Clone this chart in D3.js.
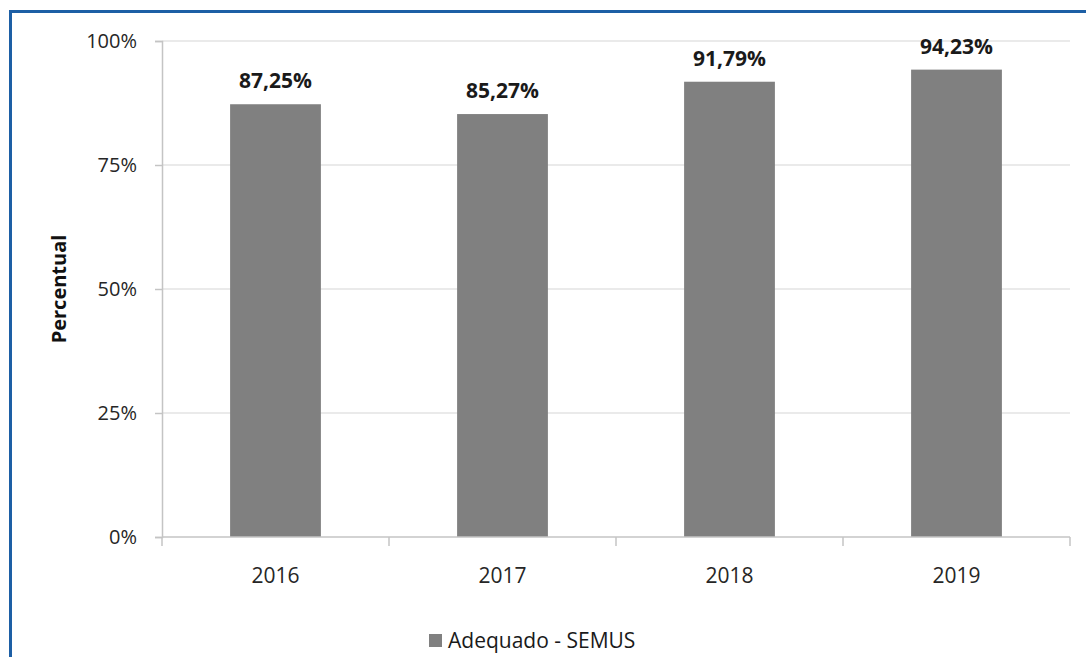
<!DOCTYPE html>
<html lang="pt">
<head>
  <meta charset="UTF-8">
  <title>Percentual Adequado - SEMUS</title>
  <script src="https://d3js.org/d3.v7.min.js"></script>
  <style>
    body {
      margin: 0;
      background: #fff;
      font-family: "Open Sans", "Noto Sans", sans-serif;
    }
    svg { display: block; }
  </style>
</head>
<body>
<div id="chart"></div>
<script>
  // dados
  const anos = ["2016", "2017", "2018", "2019"];
  const valores = [87.25, 85.27, 91.79, 94.23];
  const rotulos = ["87,25%", "85,27%", "91,79%", "94,23%"];
  const yTicks = [0, 25, 50, 75, 100];
  const serie = "Adequado - SEMUS";

  const W = 1086, H = 657;
  const margin = {top: 41, right: 16, bottom: 120, left: 162},
        width = 1070 - margin.left,
        height = 537 - margin.top;

  const root = d3.select("#chart").append("svg")
    .attr("width", W).attr("height", H);

  // moldura azul
  root.append("path")
    .attr("d", `M10.5,${H} L10.5,11.5 L${W},11.5`)
    .attr("fill", "none")
    .attr("stroke", "#1d5fa5")
    .attr("stroke-width", 3);

  const svg = root.append("g")
    .attr("transform", `translate(${margin.left},${margin.top})`);

  const x = d3.scaleBand()
    .domain(anos)
    .range([0, width])
    .paddingInner(0.6)
    .paddingOuter(0.3);

  const y = d3.scaleLinear()
    .domain([0, 100])
    .range([height, 0]);

  // grade
  svg.append("g")
    .selectAll("line")
    .data(yTicks.filter(d => d > 0))
    .join("line")
    .attr("x1", 0).attr("x2", width)
    .attr("y1", d => y(d)).attr("y2", d => y(d))
    .attr("stroke", "#e3e3e3")
    .attr("stroke-width", 1.5);

  // eixo Y
  const yAxis = svg.append("g")
    .call(d3.axisLeft(y).tickValues(yTicks).tickFormat(d => d + "%").tickSize(7).tickPadding(18));
  yAxis.select(".domain").attr("stroke", "#c4c4c4").attr("stroke-width", 1.5);
  yAxis.selectAll(".tick line").attr("stroke", "#c4c4c4").attr("stroke-width", 1.5);
  yAxis.selectAll("text")
    .style("font-size", "20px")
    .style("font-family", "'Open Sans', sans-serif")
    .attr("fill", "#262626");

  // barras
  svg.selectAll("rect.bar")
    .data(anos)
    .join("rect")
    .attr("class", "bar")
    .attr("x", d => x(d))
    .attr("width", x.bandwidth())
    .attr("y", (d, i) => y(valores[i]))
    .attr("height", (d, i) => height - y(valores[i]))
    .attr("fill", "#808080");

  // rótulos de dados
  svg.selectAll("text.lbl")
    .data(anos)
    .join("text")
    .attr("class", "lbl")
    .attr("x", d => x(d) + x.bandwidth() / 2)
    .attr("y", (d, i) => y(valores[i]) - 16)
    .attr("text-anchor", "middle")
    .style("font-size", "21px")
    .style("font-weight", "bold")
    .attr("fill", "#1a1a1a")
    .text((d, i) => rotulos[i]);

  // eixo X
  svg.append("line")
    .attr("x1", 0).attr("x2", width)
    .attr("y1", height).attr("y2", height)
    .attr("stroke", "#c4c4c4").attr("stroke-width", 1.5);

  const bordas = d3.range(anos.length + 1).map(i => i * width / anos.length);
  svg.append("g")
    .selectAll("line")
    .data(bordas)
    .join("line")
    .attr("x1", d => d).attr("x2", d => d)
    .attr("y1", height).attr("y2", height + 9)
    .attr("stroke", "#c4c4c4").attr("stroke-width", 1.5);

  svg.append("g")
    .selectAll("text")
    .data(anos)
    .join("text")
    .attr("x", d => x(d) + x.bandwidth() / 2)
    .attr("y", height + 46)
    .attr("text-anchor", "middle")
    .style("font-size", "21px")
    .attr("fill", "#262626")
    .text(d => d);

  // título eixo Y
  svg.append("text")
    .attr("transform", "rotate(-90)")
    .attr("x", -height / 2 + 41 - 41)
    .attr("y", -96)
    .attr("text-anchor", "middle")
    .style("font-size", "20px")
    .style("font-weight", "bold")
    .attr("fill", "#111")
    .text("Percentual");

  // legenda
  const leg = root.append("g").attr("transform", "translate(429,634)");
  leg.append("rect")
    .attr("width", 13).attr("height", 13)
    .attr("fill", "#808080");
  leg.append("text")
    .attr("x", 19).attr("y", 14)
    .style("font-size", "21px")
    .attr("fill", "#1a1a1a")
    .text(serie);
</script>
</body>
</html>
